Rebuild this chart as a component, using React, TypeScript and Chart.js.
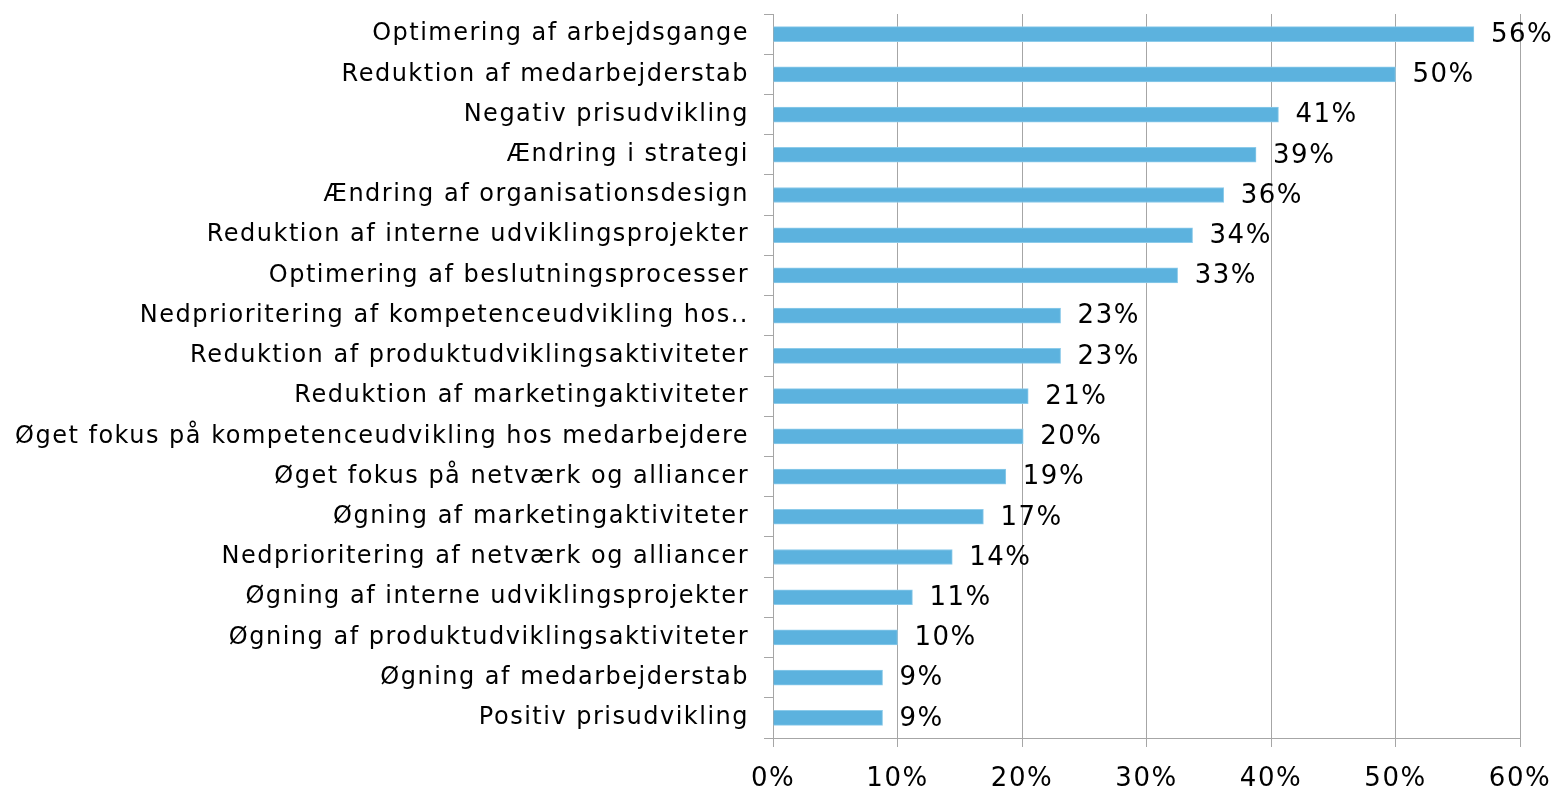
import React, { useEffect, useRef } from "react";
import { Chart, registerables } from "chart.js";

Chart.register(...registerables);

const categories = [
  "Optimering af arbejdsgange",
  "Reduktion af medarbejderstab",
  "Negativ prisudvikling",
  "Ændring i strategi",
  "Ændring af organisationsdesign",
  "Reduktion af interne udviklingsprojekter",
  "Optimering af beslutningsprocesser",
  "Nedprioritering af kompetenceudvikling hos..",
  "Reduktion af produktudviklingsaktiviteter",
  "Reduktion af marketingaktiviteter",
  "Øget fokus på kompetenceudvikling hos medarbejdere",
  "Øget fokus på netværk og alliancer",
  "Øgning af marketingaktiviteter",
  "Nedprioritering af netværk og alliancer",
  "Øgning af interne udviklingsprojekter",
  "Øgning af produktudviklingsaktiviteter",
  "Øgning af medarbejderstab",
  "Positiv prisudvikling",
];

const values = [56.3, 50.0, 40.6, 38.8, 36.2, 33.7, 32.5, 23.1, 23.1, 20.5, 20.1, 18.7, 16.9, 14.4, 11.2, 10.0, 8.8, 8.8];

const xTicks = [0, 10, 20, 30, 40, 50, 60];

const FONT = "'DejaVu Sans', Verdana, sans-serif";
const GRID = "#A6A6A6";

const spacingPlugin = {
  id: "spacing",
  beforeLayout(chart: any) {
    chart.ctx.letterSpacing = "1.5px";
  },
  beforeDraw(chart: any) {
    chart.ctx.letterSpacing = "1.5px";
  },
};

const dataLabelPlugin = {
  id: "dataLabels",
  afterDatasetsDraw(chart: any) {
    const ctx = chart.ctx;
    const meta = chart.getDatasetMeta(0);
    ctx.save();
    ctx.letterSpacing = "1.5px";
    ctx.font = `26px ${FONT}`;
    ctx.fillStyle = "#000";
    ctx.textAlign = "left";
    ctx.textBaseline = "middle";
    meta.data.forEach((bar: any, i: number) => {
      ctx.fillText(Math.round(values[i]) + "%", bar.x + 17, bar.y + 1);
    });
    ctx.restore();
  },
};

export default function App() {
  const ref = useRef<HTMLCanvasElement>(null);
  useEffect(() => {
    document.body.style.margin = "0";
    const chart = new Chart(ref.current!, {
      type: "bar",
      data: {
        labels: categories,
        datasets: [
          {
            data: values,
            backgroundColor: "#5CB2DE",
            borderColor: "#8CCBEA",
            borderWidth: 1,
            barThickness: 15,
          },
        ],
      },
      options: {
        indexAxis: "y",
        animation: false,
        responsive: false,
        maintainAspectRatio: false,
        layout: { padding: { top: 14, right: 35, left: 0, bottom: 0 } },
        plugins: { legend: { display: false }, tooltip: { enabled: false } },
        scales: {
          x: {
            min: 0,
            max: 60,
            afterBuildTicks: (scale: any) => {
              scale.ticks = xTicks.map((v) => ({ value: v }));
            },
            afterFit: (scale: any) => {
              scale.height = 53;
              scale.paddingLeft = 0;
              scale.paddingRight = 0;
            },
            ticks: {
              callback: (v: any) => v + "%",
              color: "#000",
              font: { family: FONT, size: 26 },
              padding: 17,
              maxRotation: 0,
            },
            grid: { color: GRID, tickLength: 9, lineWidth: 1 },
            border: { color: GRID, width: 1 },
          },
          y: {
            afterFit: (scale: any) => {
              scale.width = 773;
              scale.paddingTop = 0;
              scale.paddingBottom = 0;
            },
            ticks: {
              color: "#000",
              font: { family: FONT, size: 24 },
              padding: 15,
              autoSkip: false,
            },
            grid: { drawOnChartArea: false, color: GRID, tickLength: 9, offset: true },
            border: { color: GRID, width: 1 },
          },
        },
      },
      plugins: [spacingPlugin, dataLabelPlugin],
    });
    return () => chart.destroy();
  }, []);
  return (
    <div style={{ width: 1555, height: 791 }}>
      <canvas ref={ref} width={1555} height={791} />
    </div>
  );
}
